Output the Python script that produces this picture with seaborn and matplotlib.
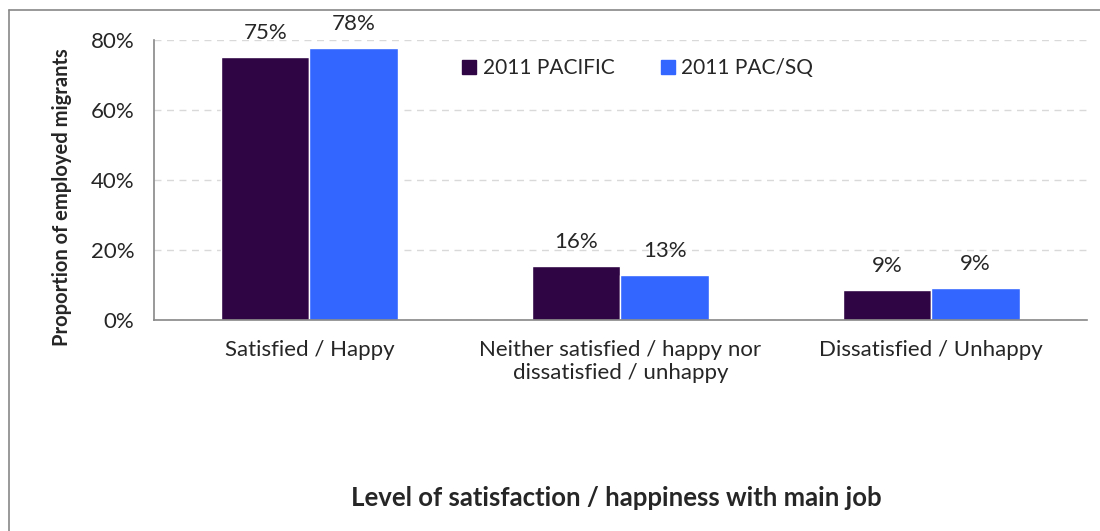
import pandas as pd
import matplotlib.pyplot as plt
import seaborn as sns
from matplotlib.lines import Line2D

# chart data
categories = ["Satisfied / Happy",
              "Neither satisfied / happy nor\ndissatisfied / unhappy",
              "Dissatisfied / Unhappy"]
series_names = ["2011 PACIFIC", "2011 PAC/SQ"]
pacific = [0.752, 0.156, 0.087]
pac_sq = [0.778, 0.129, 0.092]
y_ticks = [0, 0.2, 0.4, 0.6, 0.8]
y_tick_labels = ["0%", "20%", "40%", "60%", "80%"]

colors = ["#300544", "#3366FF"]


def build_frame():
    """Long-format table for seaborn."""
    rows = []
    for name, vals in zip(series_names, [pacific, pac_sq]):
        for cat, v in zip(categories, vals):
            rows.append({"category": cat, "series": name, "value": v})
    return pd.DataFrame(rows)


def main():
    data = build_frame()

    sns.set_style("white")
    plt.rcParams["font.family"] = ["Lato", "DejaVu Sans"]

    fig = plt.figure(figsize=(11, 5.31), dpi=100)
    ax = fig.add_axes([0.14, 0.397, 0.848, 0.528])

    sns.barplot(data=data, x="category", y="value", hue="series",
                palette=colors, width=0.57, gap=0, saturation=1,
                ax=ax, legend=False)

    ax.set_ylim(0, 0.8)
    ax.set_xlim(-0.5, 2.5)
    ax.set_yticks(y_ticks)
    ax.set_yticklabels(y_tick_labels, fontsize=16)
    ax.tick_params(axis="y", length=8, width=1, color="#888888", direction="out", pad=6)
    ax.tick_params(axis="x", length=0, labelsize=16, pad=14)
    ax.yaxis.grid(True, linestyle=(0, (5, 4)), color="#d9d9d9", linewidth=1)
    ax.set_axisbelow(True)

    for side in ["top", "right"]:
        ax.spines[side].set_visible(False)
    for side in ["left", "bottom"]:
        ax.spines[side].set_color("#888888")
        ax.spines[side].set_linewidth(1.2)

    for cont in ax.containers:
        labels = [f"{b.get_height():.0%}" for b in cont]
        texts = ax.bar_label(cont, labels=labels, padding=10, fontsize=16)
        for t in texts:
            t.set_clip_on(False)

    ax.set_ylabel("Proportion of employed migrants", fontsize=14.5,
                  fontweight="bold")
    ax.yaxis.set_label_coords(-0.088, 0.44)
    ax.set_xlabel("")
    fig.text(0.56, 0.063, "Level of satisfaction / happiness with main job",
             ha="center", va="center", fontsize=18.5, fontweight="bold")

    handles = [Line2D([], [], marker="s", linestyle="", markersize=10,
                      markerfacecolor=c, markeredgecolor=c) for c in colors]
    ax.legend(handles, series_names, loc="center left",
              bbox_to_anchor=(0.31, 0.9), ncol=2, frameon=False,
              fontsize=15, handlelength=0.7, handletextpad=0.3,
              columnspacing=2.2)

    # chart-area border (left and top edges visible in the reference)
    fig.add_artist(Line2D([0.0082, 0.0082], [0, 0.981], color="#888888",
                          linewidth=1.2, transform=fig.transFigure))
    fig.add_artist(Line2D([0.0082, 1.0], [0.981, 0.981], color="#888888",
                          linewidth=1.2, transform=fig.transFigure))

    fig.savefig("out.png", dpi=100)


if __name__ == "__main__":
    main()
